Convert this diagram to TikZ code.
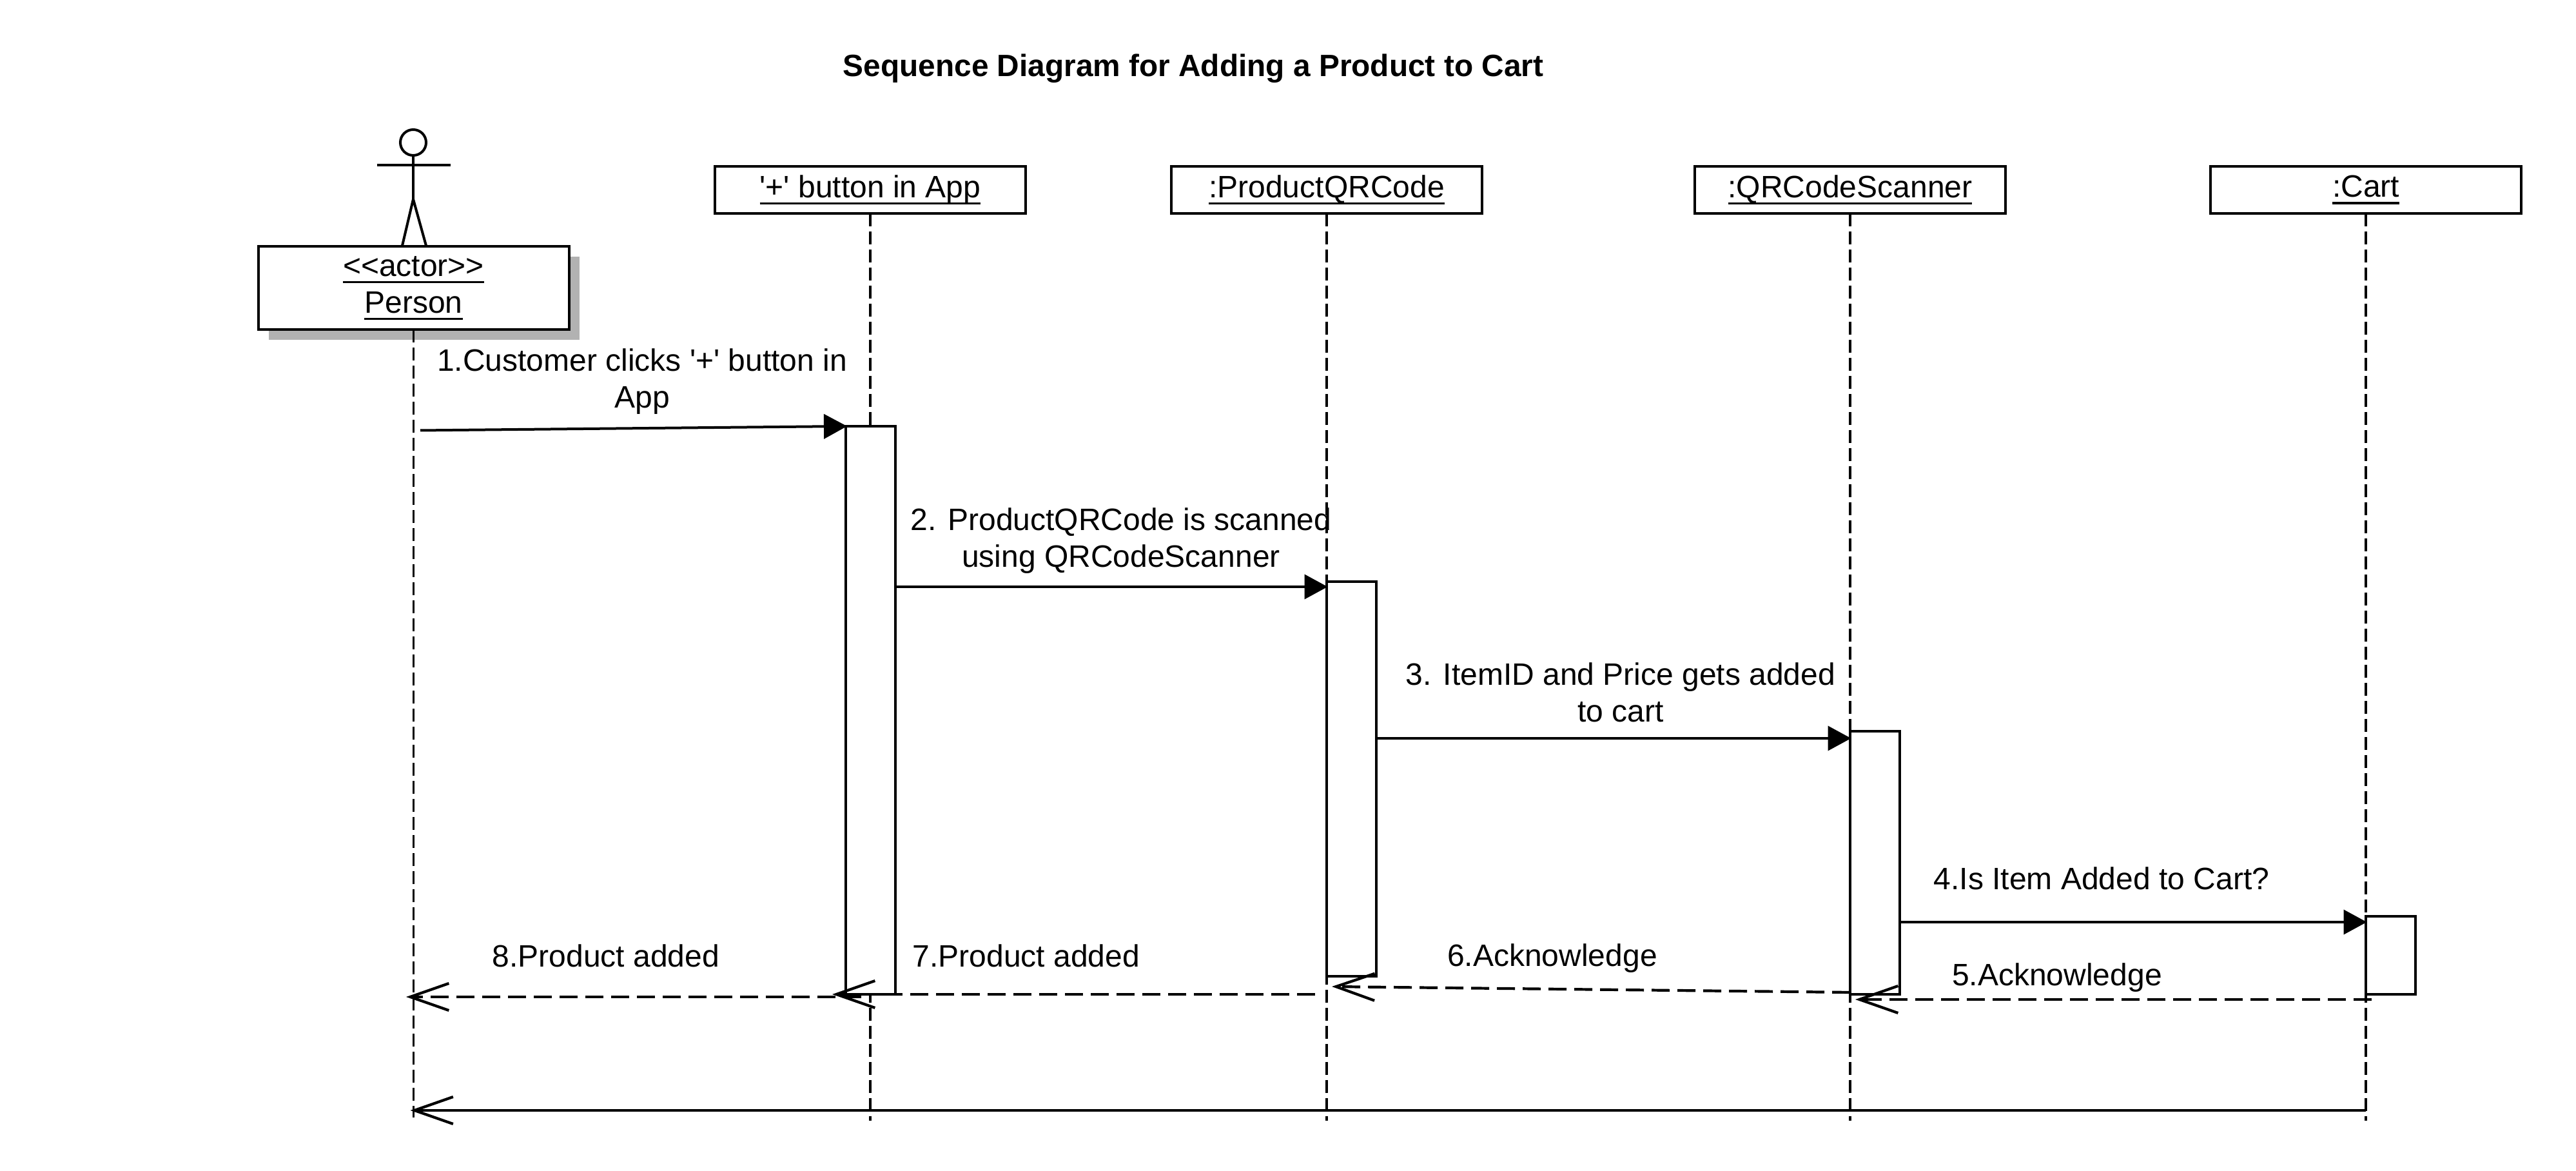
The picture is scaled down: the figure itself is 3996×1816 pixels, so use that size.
\documentclass[tikz,border=0pt]{standalone}
\usepackage{fontspec}
\newfontfamily\diagfont{Liberation Sans}
\usetikzlibrary{arrows.meta,shadows}
\definecolor{shadowgray}{HTML}{B2B2B2}
\newcommand{\ultext}[1]{\setbox0\hbox{#1}\leavevmode\rlap{\rule[-2.7pt]{\wd0}{0.9pt}}\box0}

\begin{document}
\begin{tikzpicture}[x=0.25pt, y=-0.25pt, >=Stealth]
    %define block styles
    \tikzset{
        every node/.style={font=\diagfont\fontsize{12}{14.25}\selectfont},
        objbox/.style={rectangle, draw=black, line width=1pt, fill=white, outer sep=0pt, minimum width=120.5pt, minimum height=18.25pt, inner sep=0pt},
        actorbox/.style={objbox, minimum width=120.5pt, minimum height=32.25pt, align=center, drop shadow={shadow xshift=4pt, shadow yshift=-4pt, fill=shadowgray, opacity=1}},
        activation/.style={rectangle, draw=black, line width=1pt, fill=white, outer sep=0pt, minimum width=19.25pt, inner sep=0pt},
        msglabel/.style={align=center, inner sep=0pt},
        lifeline/.style={line width=0.95pt, dash pattern=on 4.9pt off 2.1pt},
        stick/.style={line width=1pt},
        callarrow/.style={line width=1pt, shorten >=-0.5pt, -{Triangle[length=9pt, width=9.5pt]}},
        replyarrow/.style={line width=1.05pt, dash pattern=on 7pt off 3pt, -{Straight Barb[length=15pt, width=10.5pt]}},
        donearrow/.style={line width=1.05pt, shorten >=-1.25pt, -{Straight Barb[length=15pt, width=10.5pt]}},
    }
    \useasboundingbox (0,0) rectangle (3996,1816);
    %define nodes
    \node[font=\diagfont\bfseries\fontsize{11.95}{14.25}\selectfont, inner sep=0pt] (title) at (1851,106) {Sequence Diagram for Adding a Product to Cart};
    \node[actorbox] (person) at (641.5,447) {\raisebox{-1.2pt}{\ultext{<<actor>>}}\\\raisebox{-1.2pt}{\ultext{Person}}};
    \node[objbox] (btnbox) at (1350,294.5) {\raisebox{-0.5pt}{\ultext{'+' button in App}}};
    \node[objbox, right of=btnbox, node distance=177pt] (qrbox) {\raisebox{-0.5pt}{\ultext{:ProductQRCode}}};
    \node[objbox, right of=qrbox, node distance=203pt] (scanbox) {\raisebox{-0.5pt}{\ultext{:QRCodeScanner}}};
    \node[objbox, right of=scanbox, node distance=200pt] (cartbox) {\raisebox{-0.5pt}{\ultext{:Cart}}};
    %actor figure
    \node[circle, draw=black, line width=1pt, minimum size=10pt, inner sep=0pt, outer sep=0pt] (head) at (641,221) {};
    \coordinate (hip) at (641,309);
    \coordinate (armL) at (585,256);
    \coordinate (armR) at (699,256);
    \coordinate (footL) at (624,381);
    \coordinate (footR) at (661,381);
    \draw[stick] (head.south) -- (hip);
    \draw[stick] (armL) -- (armR);
    \draw[stick] (footL) -- (hip) -- (footR);
    %lifelines
    \coordinate (personend) at (641.5,1733);
    \draw[lifeline] (person.south) -- (personend);
    \foreach \obj in {btnbox, qrbox, scanbox, cartbox} {
        \coordinate (\obj end) at (\obj.south |- 0,1738);
        \draw[lifeline] (\obj.south) -- (\obj end);
    }
    %activation bars
    \node[activation, minimum height=220.25pt] (actbtn) at (1350.5,1101.5) {};
    \node[activation, minimum height=153pt] (actqr) at (2096,1208) {};
    \node[activation, minimum height=102pt] (actscan) at (2908,1338) {};
    \node[activation, minimum height=30.25pt] (actcart) at (3708,1481.5) {};
    %message labels
    \node[msglabel] (lbl1) at (996,592) {1.Customer clicks '+' button in\\App};
    \node[msglabel] (lbl2) at (1739,839) {2. ProductQRCode is scanned\\using QRCodeScanner};
    \node[msglabel] (lbl3) at (2514,1074) {3. ItemID and Price gets added\\to cart};
    \node[msglabel] (lbl4) at (3260,1362) {4.Is Item Added to Cart?};
    \node[msglabel] (lbl5) at (3191,1516) {5.Acknowledge};
    \node[msglabel] (lbl6) at (2408,1486) {6.Acknowledge};
    \node[msglabel] (lbl7) at (1592,1482) {7.Product added};
    \node[msglabel] (lbl8) at (940,1482) {8.Product added};
    %free ends of the messages
    \coordinate (msg1) at (652,667.5);
    \coordinate (msg2) at (0,910);
    \coordinate (msg3) at (0,1145);
    \coordinate (msg4) at (0,1430);
    \coordinate (msg5a) at (3679,1550);
    \coordinate (msg5b) at (2878,1550);
    \coordinate (msg6a) at (2870,1539);
    \coordinate (msg6b) at (2066,1530);
    \coordinate (msg7a) at (2040,1542);
    \coordinate (msg7b) at (1291,1542);
    \coordinate (msg8a) at (1336,1546);
    \coordinate (msg8b) at (630,1546);
    \coordinate (msgend) at (0,1722);
    %define arrows
    \draw[callarrow] (msg1) -- (actbtn.north west);
    \draw[callarrow] (actbtn.east |- msg2) -- (actqr.west |- msg2);
    \draw[callarrow] (actqr.east |- msg3) -- (actscan.west |- msg3);
    \draw[callarrow] (actscan.east |- msg4) -- (actcart.west |- msg4);
    \draw[replyarrow] (msg5a) -- (msg5b);
    \draw[replyarrow] (msg6a) -- (msg6b);
    \draw[replyarrow] (msg7a) -- (msg7b);
    \draw[replyarrow] (msg8a) -- (msg8b);
    \draw[donearrow] (cartboxend |- msgend) -- (personend |- msgend);
\end{tikzpicture}
\end{document}
